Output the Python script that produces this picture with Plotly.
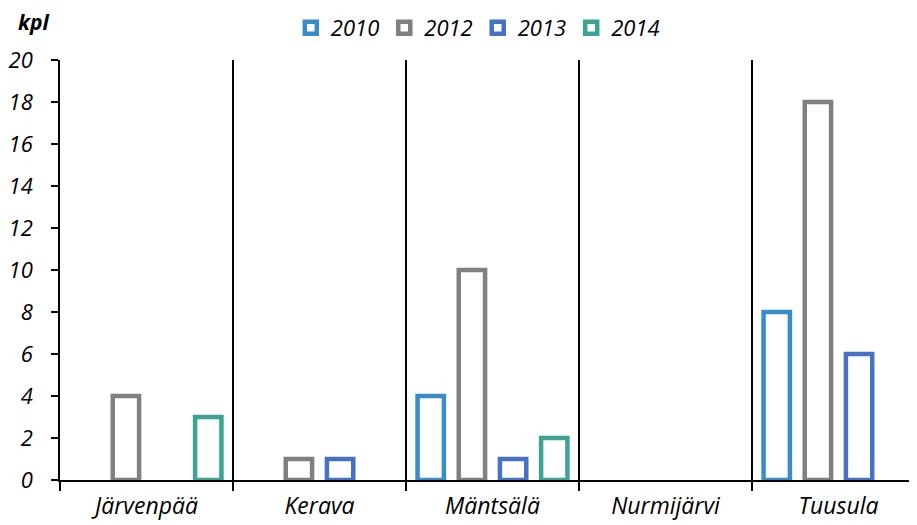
import plotly.graph_objects as go

# --- DATA ---
municipalities = ['Järvenpää', 'Kerava', 'Mäntsälä', 'Nurmijärvi', 'Tuusula']
years = ['2010', '2012', '2013', '2014']
values_2010 = [0, 0, 4, 0, 8]
values_2012 = [4, 1, 10, 0, 18]
values_2013 = [0, 1, 1, 0, 6]
values_2014 = [3, 0, 2, 0, 0]
y_ticks = list(range(0, 21, 2))

series = [values_2010, values_2012, values_2013, values_2014]
colors = ['#3A8BCA', '#808080', '#4472C4', '#3BA391']

FONT = 'Open Sans'


def txt(size):
    return dict(family=FONT, size=size, color='black', style='italic')


fig = go.Figure()
for year, vals, col in zip(years, series, colors):
    # nollat jätetään piirtämättä (muuten näkyy viiva)
    fig.add_trace(go.Bar(
        x=municipalities,
        y=[v if v else None for v in vals],
        name=year,
        marker=dict(color='white', line=dict(color=col, width=4.5)),
    ))

fig.add_annotation(
    text='<b>kpl</b>', xref='paper', yref='paper',
    x=-0.031, y=1.09, xanchor='center', yanchor='middle', showarrow=False,
    font=txt(21),
)

# sivun body-marginaali (8px) siirtää kuvaa, joten marginaalit pienemmät
fig.update_layout(
    width=917, height=525,
    barmode='group',
    bargap=0.048,
    bargroupgap=0.36,
    margin=dict(t=52, l=52, r=0, b=53),
    plot_bgcolor='white',
    paper_bgcolor='white',
    font=txt(22),
    legend=dict(
        orientation='h', x=0.483, xanchor='center',
        yref='container', y=0.962, yanchor='middle',
        font=txt(22), itemclick=False,
    ),
)

fig.update_xaxes(
    type='category',
    range=[-0.5, 4.5],
    tickson='boundaries',
    ticks='outside', ticklen=9, tickcolor='black', tickwidth=1.5,
    showgrid=True, gridcolor='black', gridwidth=1.5,
    showline=True, linecolor='black', linewidth=1.5,
    tickfont=txt(23),
    ticklabelstandoff=5,
    automargin=False,
)
fig.update_yaxes(
    range=[0, 20],
    tickvals=y_ticks,
    ticks='outside', ticklen=7, tickcolor='black', tickwidth=1.5,
    showgrid=False, zeroline=False,
    showline=True, linecolor='black', linewidth=1.5,
    tickfont=txt(22),
    ticklabelstandoff=14,
    automargin=False,
)

fig.write_html('out.html')
